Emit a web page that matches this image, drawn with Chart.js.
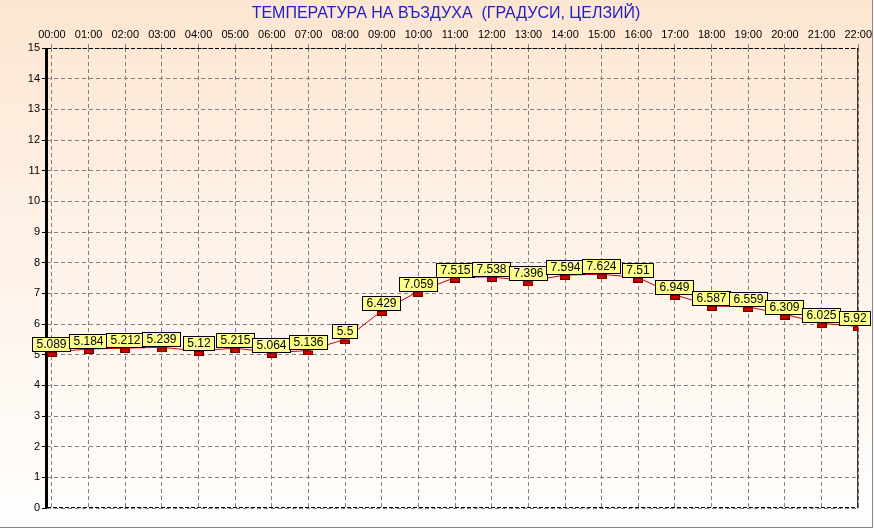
<!DOCTYPE html>
<html>
<head>
<meta charset="utf-8">
<script src="https://cdn.jsdelivr.net/npm/chart.js@4/dist/chart.umd.min.js"></script>
<style>
  body { margin: 0; background: #fff; }
  #wrap { width: 874px; height: 529px; }
</style>
</head>
<body>
<div id="wrap"><canvas id="myChart" width="874" height="529"></canvas></div>
<script>
const hours = ['00:00', '01:00', '02:00', '03:00', '04:00', '05:00', '06:00', '07:00',
  '08:00', '09:00', '10:00', '11:00', '12:00', '13:00', '14:00', '15:00', '16:00',
  '17:00', '18:00', '19:00', '20:00', '21:00', '22:00'];
const temperatures = [5.089, 5.184, 5.212, 5.239, 5.12, 5.215, 5.064, 5.136, 5.5,
  6.429, 7.059, 7.515, 7.538, 7.396, 7.594, 7.624, 7.51, 6.949, 6.587, 6.559,
  6.309, 6.025, 5.92];
const yTicks = [0, 1, 2, 3, 4, 5, 6, 7, 8, 9, 10, 11, 12, 13, 14, 15];

// small red marker, drawn below the point
function makeMarker() {
  const c = document.createElement('canvas');
  c.width = 10;
  c.height = 10;
  const g = c.getContext('2d');
  g.fillStyle = '#d00000';
  g.fillRect(0, 5, 10, 5);
  g.strokeStyle = '#700000';
  g.lineWidth = 1;
  g.strokeRect(0.5, 5.5, 9, 4);
  return c;
}

const background = {
  id: 'background',
  beforeDraw(chart) {
    const ctx = chart.ctx;
    const grad = ctx.createLinearGradient(0, 0, 0, chart.height);
    grad.addColorStop(0, '#fde6d1');
    grad.addColorStop(0.5, '#fef3ea');
    grad.addColorStop(1, '#fffefd');
    ctx.save();
    ctx.fillStyle = grad;
    ctx.fillRect(0, 0, chart.width, chart.height);
    ctx.fillStyle = '#888';
    ctx.fillRect(0, chart.height - 2, chart.width, 1);
    ctx.fillRect(chart.width - 2, 0, 1, chart.height - 1);
    ctx.fillStyle = '#fff';
    ctx.fillRect(0, chart.height - 1, chart.width, 1);
    ctx.fillRect(chart.width - 1, 0, 1, chart.height);
    ctx.restore();
  }
};

const frame = {
  id: 'frame',
  beforeDatasetsDraw(chart) {
    const { ctx, chartArea: a } = chart;
    ctx.save();
    ctx.strokeStyle = '#000';
    ctx.lineWidth = 1;
    ctx.setLineDash([4, 2]);
    ctx.beginPath();
    ctx.moveTo(a.left, a.top + 0.5);
    ctx.lineTo(a.right, a.top + 0.5);
    ctx.moveTo(a.left, a.bottom - 0.5);
    ctx.lineTo(a.right, a.bottom - 0.5);
    ctx.stroke();
    ctx.setLineDash([]);
    ctx.beginPath();
    ctx.moveTo(a.right - 0.5, a.top);
    ctx.lineTo(a.right - 0.5, a.bottom);
    ctx.stroke();
    ctx.lineWidth = 3;
    ctx.beginPath();
    ctx.moveTo(a.left - 0.5, a.top);
    ctx.lineTo(a.left - 0.5, a.bottom);
    ctx.stroke();
    ctx.restore();
  }
};

const valueLabels = {
  id: 'valueLabels',
  afterDatasetsDraw(chart) {
    const ctx = chart.ctx;
    const meta = chart.getDatasetMeta(0);
    ctx.save();
    ctx.font = '12px Arial, "Liberation Sans", sans-serif';
    ctx.textAlign = 'center';
    ctx.textBaseline = 'middle';
    meta.data.forEach((pt, i) => {
      const text = String(temperatures[i]);
      const w = Math.round(ctx.measureText(text).width) + 9;
      const h = 15;
      let x = Math.round(pt.x - w / 2);
      if (x + w > chart.width - 3) x = chart.width - 3 - w;
      const y = Math.round(pt.y) - h;
      ctx.fillStyle = '#ffff8c';
      ctx.fillRect(x, y, w, h);
      ctx.strokeStyle = '#000';
      ctx.lineWidth = 1;
      ctx.strokeRect(x + 0.5, y + 0.5, w - 1, h - 1);
      ctx.fillStyle = '#000';
      ctx.fillText(text, x + w / 2, y + h / 2 + 0.5);
    });
    ctx.restore();
  }
};

const context = document.getElementById('myChart').getContext('2d');

const chart = new Chart(context, {
  type: 'line',
  data: {
    datasets: [
      {
        data: temperatures.map((v, i) => ({ x: i, y: v })),
        borderColor: '#cc0000',
        borderWidth: 1,
        tension: 0,
        pointStyle: makeMarker(),
        pointRadius: 5,
        pointHoverRadius: 5,
      },
    ],
  },
  options: {
    responsive: false,
    animation: false,
    layout: { padding: { left: 26, right: 8, top: 0, bottom: 21 } },
    plugins: {
      legend: { display: false },
      tooltip: { enabled: false },
      title: {
        display: true,
        text: 'ТЕМПЕРАТУРА НА ВЪЗДУХА  (ГРАДУСИ, ЦЕЛЗИЙ)',
        color: '#2020c8',
        font: { family: 'Arial, "Liberation Sans", sans-serif', size: 16, weight: 'normal' },
        padding: { top: 4, bottom: 2 },
      },
    },
    scales: {
      x: {
        type: 'linear',
        position: 'top',
        min: -5 / 37,
        max: hours.length - 1,
        afterBuildTicks: (scale) => {
          scale.ticks = hours.map((h, i) => ({ value: i }));
        },
        afterFit: (scale) => { scale.height = 22.8; },
        ticks: {
          stepSize: 1,
          autoSkip: false,
          maxRotation: 0,
          padding: 2,
          color: '#000',
          font: { family: 'Arial, "Liberation Sans", sans-serif', size: 11 },
          callback: (value) => hours[value],
        },
        grid: {
          color: '#808080',
          tickColor: '#808080',
          tickLength: 4,
          tickBorderDash: [],
        },
        border: { display: false, dash: [4, 3] },
      },
      y: {
        min: 0,
        max: 15,
        afterBuildTicks: (scale) => {
          scale.ticks = yTicks.map((v) => ({ value: v }));
        },
        afterFit: (scale) => { scale.width = 21; },
        ticks: {
          stepSize: 1,
          padding: 2,
          color: '#000',
          font: { family: 'Arial, "Liberation Sans", sans-serif', size: 11 },
        },
        grid: {
          color: '#808080',
          tickColor: '#000',
          tickLength: 5,
          tickBorderDash: [],
        },
        border: { display: false, dash: [4, 3] },
      },
    },
  },
  plugins: [background, frame, valueLabels],
});
</script>
</body>
</html>
